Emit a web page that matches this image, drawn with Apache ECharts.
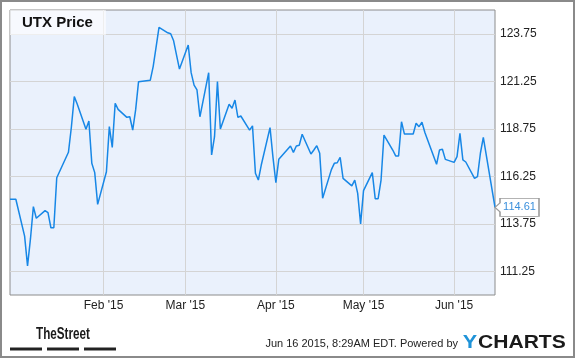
<!DOCTYPE html>
<html><head><meta charset="utf-8">
<script src="https://cdn.jsdelivr.net/npm/echarts@6/dist/echarts.min.js"></script>
<style>html,body{margin:0;padding:0;background:#fff}#c{width:575px;height:358px}</style>
</head><body><div id="c"></div>
<script>
const dates = [
 '2014-12-31',
 '2015-01-02','2015-01-05','2015-01-06','2015-01-07','2015-01-08','2015-01-09',
 '2015-01-12','2015-01-13','2015-01-14','2015-01-15','2015-01-16',
 '2015-01-20','2015-01-21','2015-01-22','2015-01-23',
 '2015-01-26','2015-01-27','2015-01-28','2015-01-29','2015-01-30',
 '2015-02-02','2015-02-03','2015-02-04','2015-02-05','2015-02-06',
 '2015-02-09','2015-02-10','2015-02-11','2015-02-12','2015-02-13',
 '2015-02-17','2015-02-18','2015-02-19','2015-02-20',
 '2015-02-23','2015-02-24','2015-02-25','2015-02-26','2015-02-27',
 '2015-03-02','2015-03-03','2015-03-04','2015-03-05','2015-03-06',
 '2015-03-09','2015-03-10','2015-03-11','2015-03-12','2015-03-13',
 '2015-03-16','2015-03-17','2015-03-18','2015-03-19','2015-03-20',
 '2015-03-23','2015-03-24','2015-03-25','2015-03-26','2015-03-27',
 '2015-03-30','2015-03-31',
 '2015-04-01','2015-04-02',
 '2015-04-06','2015-04-07','2015-04-08','2015-04-09','2015-04-10',
 '2015-04-13','2015-04-14','2015-04-15','2015-04-16','2015-04-17',
 '2015-04-20','2015-04-21','2015-04-22','2015-04-23','2015-04-24',
 '2015-04-27','2015-04-28','2015-04-29','2015-04-30',
 '2015-05-01',
 '2015-05-04','2015-05-05','2015-05-06','2015-05-07','2015-05-08',
 '2015-05-11','2015-05-12','2015-05-13','2015-05-14','2015-05-15',
 '2015-05-18','2015-05-19','2015-05-20','2015-05-21','2015-05-22',
 '2015-05-26','2015-05-27','2015-05-28','2015-05-29',
 '2015-06-01','2015-06-02','2015-06-03','2015-06-04','2015-06-05',
 '2015-06-08','2015-06-09','2015-06-10','2015-06-11','2015-06-12',
 '2015-06-15'
];
const closes = [
 115.04,
 115.04,113.10,111.53,112.95,114.65,114.04,
 114.44,114.33,113.54,113.54,116.17,
 117.51,118.83,120.44,120.05,
 118.72,119.16,116.93,116.44,114.77,
 116.49,118.86,117.77,120.09,119.77,
 119.35,119.38,118.68,119.74,121.23,
 121.30,122.02,123.05,124.09,
 123.80,123.75,123.38,122.63,121.89,
 123.16,121.70,121.05,120.79,119.38,
 121.70,117.37,118.33,121.23,118.74,
 120.04,119.83,120.26,119.35,119.42,
 118.68,118.90,116.41,116.05,116.84,
 118.81,117.26,
 115.91,117.14,
 117.84,117.51,117.84,117.88,118.46,
 117.42,117.63,117.86,117.46,115.09,
 116.60,116.93,116.96,117.25,116.14,
 115.74,116.05,115.35,113.74,
 115.49,
 116.44,115.07,115.07,116.05,118.42,
 117.63,117.32,117.32,119.12,118.47,
 118.47,119.04,118.86,119.09,118.55,
 116.88,117.63,117.67,117.14,
 116.98,117.28,118.51,117.11,117.00,
 116.14,116.23,117.46,118.30,117.37,
 114.61
];
const monthTicks = ['2015-02-01','2015-03-01','2015-04-01','2015-05-01','2015-06-01'];
const monthLabels = ["Feb '15","Mar '15","Apr '15","May '15","Jun '15"];
const yTicks = [111.25,113.75,116.25,118.75,121.25,123.75];
const yMin = 110, yMax = 125;
const xStart = '2014-12-31', xEnd = '2015-06-15';
const titleText = 'UTX Price';
const stampText = 'Jun 16 2015, 8:29AM EDT. Powered by';

function toTime(s){const p=s.split('-').map(Number);return Date.UTC(p[0],p[1]-1,p[2]);}
const monthTimes = monthTicks.map(toTime);
const seriesData = dates.map((d,i)=>[toTime(d), closes[i]]);
const last = seriesData[seriesData.length-1];
const FONT = '"Liberation Sans", Arial, sans-serif';

const chart = echarts.init(document.getElementById('c'), null, {renderer:'canvas'});
chart.setOption({
  animation:false,
  title:{text:titleText,left:10,top:10,padding:[5,13,5,12],backgroundColor:'rgba(255,255,255,0.6)',
    textStyle:{fontSize:15,fontWeight:'bold',color:'#111',fontFamily:FONT,lineHeight:15}},
  grid:{left:10,top:10,right:80,bottom:63,show:true,backgroundColor:'#eaf1fc',borderColor:'#8c8c8c',borderWidth:1},
  xAxis:{type:'value',min:toTime(xStart),max:toTime(xEnd),scale:true,
    axisLine:{show:false},
    axisTick:{show:false,customValues:monthTimes},
    axisLabel:{customValues:monthTimes,color:'#222',fontSize:12,fontFamily:FONT,margin:5,
      formatter:function(v){const i=monthTimes.indexOf(v);return i>=0?monthLabels[i]:'';}},
    splitLine:{show:true,lineStyle:{color:'#d4d4d4',width:1}}},
  yAxis:{type:'value',position:'right',min:yMin,max:yMax,
    axisLine:{show:false},
    axisTick:{show:false,customValues:yTicks},
    axisLabel:{customValues:yTicks,color:'#222',fontSize:12,fontFamily:FONT,margin:5,
      formatter:function(v){return v.toFixed(2);}},
    splitLine:{show:true,lineStyle:{color:'#d4d4d4',width:1}}},
  series:[{type:'line',data:seriesData,showSymbol:false,symbol:'none',z:3,
    lineStyle:{color:'#1787e6',width:1.5},
    markPoint:{symbol:'path://M0,9L5,4.5L5,0L44,0L44,18L5,18L5,13.5Z',symbolSize:[44,18],symbolOffset:['50%',0],
      itemStyle:{color:'#fff',borderColor:'#9a9a9a',borderWidth:1},
      label:{show:true,position:'inside',offset:[2.5,0],color:'#3a8fdc',fontSize:11,fontFamily:FONT,
        formatter:function(p){return p.value.toFixed(2);}},
      data:[{coord:last,value:last[1]}]}
  }],
  graphic:[
    {type:'rect',shape:{x:1,y:1,width:573,height:356},style:{fill:null,stroke:'#8a8a8a',lineWidth:2},silent:true},
    {type:'text',x:63,y:335,scaleX:0.73,style:{text:'TheStreet',font:'bold 16px '+FONT,fill:'#1a1a1a',textAlign:'center',textVerticalAlign:'middle'}},
    {type:'rect',shape:{x:10,y:347.5,width:32,height:3},style:{fill:'#222'}},
    {type:'rect',shape:{x:47,y:347.5,width:32,height:3},style:{fill:'#222'}},
    {type:'rect',shape:{x:84,y:347.5,width:32,height:3},style:{fill:'#222'}},
    {type:'text',x:458,y:343.5,style:{text:stampText,font:'11px '+FONT,fill:'#222',textAlign:'right',textVerticalAlign:'middle'}},
    {type:'text',x:470,y:343.5,scaleX:1.2,style:{text:'Y',font:'bold 18px '+FONT,fill:'#1f93d8',textAlign:'center',textVerticalAlign:'middle'}},
    {type:'text',x:478,y:343.5,scaleX:1.17,style:{text:'CHARTS',font:'bold 18px '+FONT,fill:'#1a1a1a',textAlign:'left',textVerticalAlign:'middle'}}
  ]
});
</script></body></html>
